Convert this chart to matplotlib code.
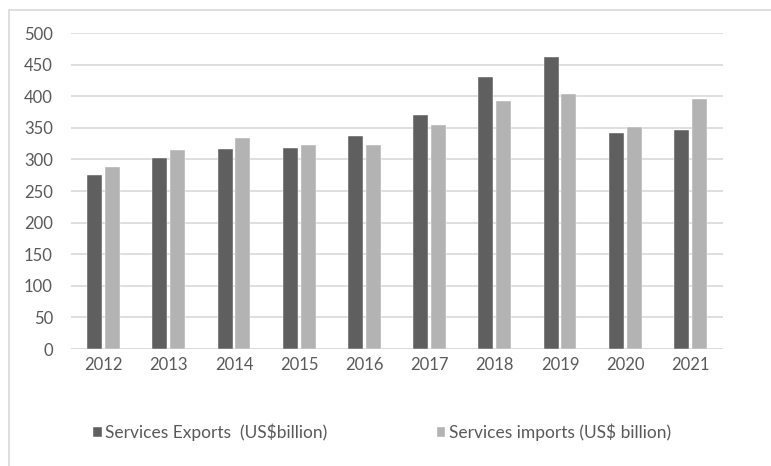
import numpy as np
import matplotlib.pyplot as plt
from matplotlib.patches import Rectangle

years = ['2012', '2013', '2014', '2015', '2016', '2017', '2018', '2019', '2020', '2021']
exports = [276, 303, 316, 318, 337, 371, 430, 462, 342, 347]
imports = [288, 315, 334, 322, 322, 355, 393, 404, 352, 396]

plt.rcParams['font.family'] = ['Lato', 'DejaVu Sans']
text_col = '#595959'

fig = plt.figure(figsize=(7.71, 4.66), dpi=100)
ax = fig.add_axes([71 / 771, 1 - 349 / 466, 652 / 771, 316 / 466])

# outer chart frame (runs off the right/bottom edge)
fig.patches.append(Rectangle((9 / 771, -0.05), 1.0, 1 - 10 / 466 + 0.05,
                             transform=fig.transFigure, fill=False,
                             edgecolor='#d9d9d9', lw=1.2))

x = np.arange(len(years))
w = 0.23
off = 0.138
ax.bar(x - off, exports, w, color='#5f5f5f', edgecolor='white', lw=0.3,
       label='Services Exports  (US$billion)', zorder=3)
ax.bar(x + off, imports, w, color='#b3b3b3', edgecolor='white', lw=0.3,
       label='Services imports (US$ billion)', zorder=3)

ax.set_xlim(-0.5, len(years) - 0.5)
ax.set_ylim(0, 500)
ax.set_yticks(np.arange(0, 501, 50))
ax.set_xticks(x)
ax.set_xticklabels(years)
ax.yaxis.grid(True, color='#d9d9d9', lw=1.2, zorder=0)
ax.tick_params(length=0, labelsize=12, colors=text_col)
ax.tick_params(axis='x', pad=6)
ax.tick_params(axis='y', pad=13)
for s in ax.spines.values():
    s.set_visible(False)
ax.axhline(0, color='#d9d9d9', lw=1.2, zorder=1)

leg = fig.legend(loc='center', bbox_to_anchor=(382 / 771, 1 - 432 / 466), ncol=2,
                 frameon=False, fontsize=12.5, handlelength=0.5, handleheight=0.5,
                 handletextpad=0.2, columnspacing=6.3)
for t in leg.get_texts():
    t.set_color(text_col)

fig.savefig('out.png', dpi=100)
